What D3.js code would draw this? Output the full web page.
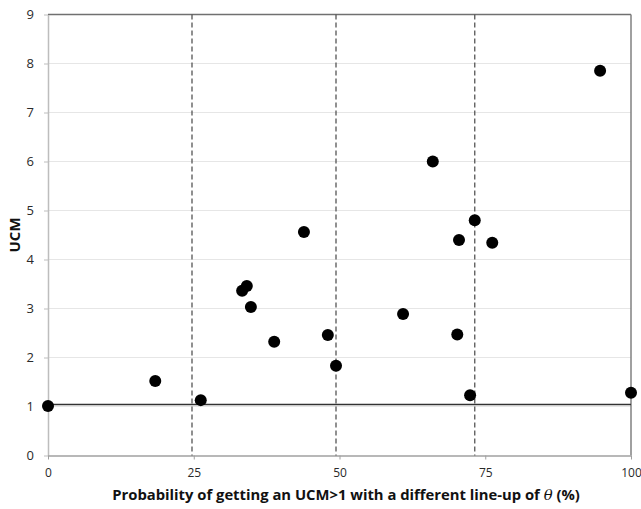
<!DOCTYPE html>
<html>
<head>
<meta charset="utf-8">
<script src="https://cdn.jsdelivr.net/npm/d3@7"></script>
<style>
  body { margin: 0; background: #fff; }
  svg text { font-family: "Open Sans", "Liberation Sans", sans-serif; }
</style>
</head>
<body>
<script>
// 数据
const probX = [0, 18.4, 26.2, 33.3, 34.1, 34.8, 38.8, 43.9, 48.0, 49.4, 60.9, 66.0, 70.2, 70.5, 72.4, 73.2, 76.2, 94.7, 100];
const ucmY  = [1.01, 1.52, 1.13, 3.36, 3.46, 3.03, 2.32, 4.56, 2.46, 1.83, 2.89, 6.0, 2.47, 4.4, 1.23, 4.8, 4.34, 7.85, 1.28];
const dividers = [24.7, 49.4, 73.2];
const refY = 1.04;
const xTicks = [0, 25, 50, 75, 100];
const yTicks = [0, 1, 2, 3, 4, 5, 6, 7, 8, 9];

const width = 641, height = 509;
const margin = { top: 14.5, right: 10, bottom: 53.5, left: 48 };

const x = d3.scaleLinear().domain([0, 100]).range([margin.left, width - margin.right]);
const y = d3.scaleLinear().domain([0, 9]).range([height - margin.bottom, margin.top]);

const svg = d3.select('body').append('svg')
    .attr('width', width)
    .attr('height', height);

const chart = svg.append('g').attr('class', 'chart');

// 网格线
chart.append('g').selectAll('line').data(yTicks.filter(d => d > 0 && d < 9)).join('line')
    .attr('x1', x(0)).attr('x2', x(100))
    .attr('y1', d => y(d)).attr('y2', d => y(d))
    .attr('stroke', '#e6e6e6').attr('stroke-width', 1);

// 上边框和右边框
chart.append('line').attr('x1', x(0)).attr('x2', x(100)).attr('y1', y(9)).attr('y2', y(9))
    .attr('stroke', '#707070').attr('stroke-width', 1.5);
chart.append('line').attr('x1', x(100)).attr('x2', x(100)).attr('y1', y(9)).attr('y2', y(0))
    .attr('stroke', '#808080').attr('stroke-width', 1.5);

// y轴
const gy = chart.append('g').attr('transform', `translate(${x(0)},0)`)
    .call(d3.axisLeft(y).tickValues(yTicks).tickSize(4).tickPadding(10).tickSizeOuter(0));
gy.select('.domain').attr('stroke', '#bdbdbd').attr('stroke-width', 1.5);
gy.selectAll('.tick line').attr('stroke', '#bdbdbd');
gy.selectAll('.tick text').attr('font-size', 13).attr('fill', '#2a2a2a');

// x轴
const gx = chart.append('g').attr('transform', `translate(0,${y(0)})`)
    .call(d3.axisBottom(x).tickValues(xTicks).tickSize(4).tickPadding(9).tickSizeOuter(0));
gx.select('.domain').attr('stroke', '#a0a0a0').attr('stroke-width', 1.5);
gx.selectAll('.tick line').attr('stroke', '#a0a0a0');
gx.selectAll('.tick text').attr('font-size', 12).attr('fill', '#2a2a2a');

// 虚线
chart.append('g').selectAll('line').data(dividers).join('line')
    .attr('x1', d => x(d)).attr('x2', d => x(d))
    .attr('y1', y(9)).attr('y2', y(0))
    .attr('stroke', '#555').attr('stroke-width', 1.3)
    .attr('stroke-dasharray', '5,3');

// 参考线 UCM=1
chart.append('line')
    .attr('x1', x(0)).attr('x2', x(100))
    .attr('y1', y(refY)).attr('y2', y(refY))
    .attr('stroke', '#333').attr('stroke-width', 1.5);

// 散点
chart.append('g').selectAll('circle').data(probX.map((v, i) => [v, ucmY[i]])).join('circle')
    .attr('cx', d => x(d[0]))
    .attr('cy', d => y(d[1]))
    .attr('r', 6)
    .attr('fill', '#000');

// 轴标题
svg.append('text')
    .attr('transform', `translate(20,${(y(9) + y(0)) / 2}) rotate(-90)`)
    .attr('text-anchor', 'middle')
    .attr('font-size', 15).attr('font-weight', 'bold').attr('fill', '#111')
    .text('UCM');

const xt = svg.append('text')
    .attr('x', 346).attr('y', 500)
    .attr('text-anchor', 'middle')
    .attr('font-size', 14.8).attr('font-weight', 'bold').attr('fill', '#111');
xt.append('tspan').text('Probability of getting an UCM>1 with a different line-up of ');
xt.append('tspan').attr('font-family', '"DejaVu Serif", serif').attr('font-style', 'italic').attr('font-weight', 'normal').text('θ');
xt.append('tspan').text(' (%)');
</script>
</body>
</html>
